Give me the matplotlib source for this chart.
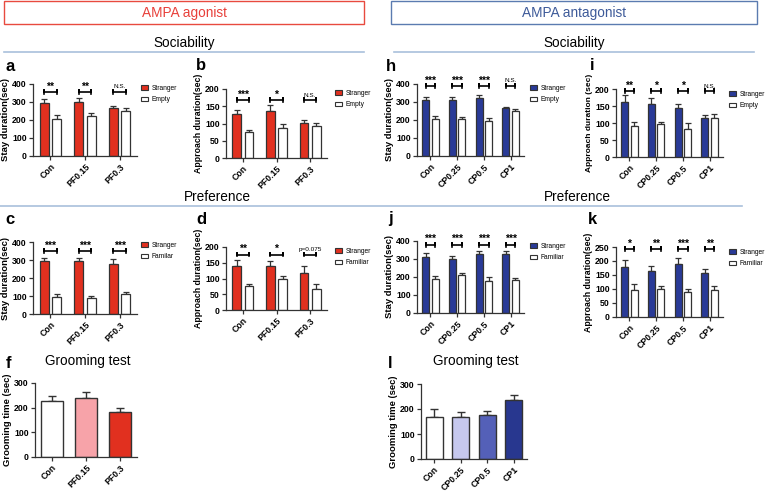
import numpy as np
import matplotlib.pyplot as plt
from matplotlib.patches import Rectangle, Patch

plt.rcParams['font.family'] = ['Liberation Sans', 'DejaVu Sans']

W, H = 768, 491
RED = '#e1301f'
BLUE = '#293a97'
EDGE = '#333333'

pf_groups = ['Con', 'PF0.15', 'PF0.3']
cp_groups = ['Con', 'CP0.25', 'CP0.5', 'CP1']

# a: sociability, stay duration (agonist)
a_stranger = [297, 302, 265]
a_stranger_err = [22, 20, 10]
a_empty = [207, 221, 250]
a_empty_err = [18, 18, 14]
a_sig = ['**', '**', 'N.S.']

# b: sociability, approach duration (agonist)
b_stranger = [128, 136, 101]
b_stranger_err = [12, 17, 10]
b_empty = [75, 87, 94]
b_empty_err = [7, 11, 8]
b_sig = ['***', '*', 'N.S.']

# c: preference, stay duration (agonist)
c_stranger = [292, 293, 280]
c_stranger_err = [20, 18, 26]
c_familiar = [96, 91, 111]
c_familiar_err = [13, 11, 9]
c_sig = ['***', '***', '***']

# d: preference, approach duration (agonist)
d_stranger = [140, 139, 116]
d_stranger_err = [18, 16, 24]
d_familiar = [75, 97, 68]
d_familiar_err = [9, 12, 16]
d_sig = ['**', '*', 'p=0.075']

# f: grooming (agonist)
f_groom = [228, 240, 181]
f_groom_err = [20, 24, 18]
f_colors = ['white', '#f7a3a9', RED]

# h: sociability, stay duration (antagonist)
h_stranger = [313, 311, 320, 264]
h_stranger_err = [15, 18, 17, 10]
h_empty = [208, 207, 192, 248]
h_empty_err = [12, 10, 19, 12]
h_sig = ['***', '***', '***', 'N.S.']

# i: sociability, approach duration (antagonist)
i_stranger = [163, 156, 145, 116]
i_stranger_err = [20, 18, 11, 8]
i_empty = [92, 97, 83, 115]
i_empty_err = [11, 6, 16, 12]
i_sig = ['**', '*', '*', 'N.S.']

# j: preference, stay duration (antagonist)
j_stranger = [313, 301, 327, 328]
j_stranger_err = [18, 16, 20, 16]
j_familiar = [188, 212, 180, 181]
j_familiar_err = [15, 11, 20, 14]
j_sig = ['***', '***', '***', '***']

# k: preference, approach duration (antagonist)
k_stranger = [180, 163, 190, 157]
k_stranger_err = [24, 18, 20, 14]
k_familiar = [98, 100, 88, 95]
k_familiar_err = [20, 12, 12, 14]
k_sig = ['*', '**', '***', '**']

# l: grooming (antagonist)
l_groom = [170, 168, 176, 238]
l_groom_err = [30, 20, 16, 18]
l_colors = ['white', '#c6c8ee', '#5460b8', '#28378f']

fig = plt.figure(figsize=(W / 100, H / 100), dpi=100)

# overlay in pixel coordinates for boxes, section titles and rules
ov = fig.add_axes([0, 0, 1, 1])
ov.set_xlim(0, W)
ov.set_ylim(H, 0)
ov.axis('off')
ov.add_patch(Rectangle((4, 1), 360, 23, fill=False, ec='#e84a3f', lw=1))
ov.add_patch(Rectangle((391, 1), 366, 23, fill=False, ec='#5b7bb0', lw=1))
ov.text(184, 13, 'AMPA agonist', color='#e8403a', fontsize=9.8, ha='center', va='center')
ov.text(574, 13, 'AMPA antagonist', color='#3d5a99', fontsize=9.8, ha='center', va='center')
for xc in (184, 574):
    ov.text(xc, 43, 'Sociability', fontsize=9.8, ha='center', va='center')
ov.plot([4, 364], [52, 52], color='#a9c0dc', lw=1.2)
ov.plot([394, 754], [52, 52], color='#a9c0dc', lw=1.2)
for xc in (217, 577):
    ov.text(xc, 197, 'Preference', fontsize=9.8, ha='center', va='center')
ov.plot([0, 742], [206, 206], color='#a9c0dc', lw=1.2)
ov.text(88, 361, 'Grooming test', fontsize=9.8, ha='center', va='center')
ov.text(476, 361, 'Grooming test', fontsize=9.8, ha='center', va='center')
for lab, x, y in [('a', 10, 66), ('b', 201, 65), ('h', 391, 66), ('i', 592, 65),
                  ('c', 10, 219), ('d', 201, 219), ('j', 390, 219), ('k', 592, 219),
                  ('f', 8, 363), ('l', 390, 364)]:
    ov.text(x, y, lab, fontsize=12, fontweight='bold', ha='center', va='center')


def px_axes(x0, x1, y0, ytop):
    return fig.add_axes([x0 / W, 1 - y0 / H, (x1 - x0) / W, (y0 - ytop) / H])


def style(ax, groups, ymax, ystep, ylabel, ylsize):
    ax.set_xlim(-0.5, len(groups) - 0.5)
    ax.set_ylim(0, ymax)
    ax.set_yticks(np.arange(0, ymax + 1, ystep))
    ax.set_xticks(range(len(groups)))
    ax.set_xticklabels(groups, rotation=45, ha='right', rotation_mode='anchor',
                       fontsize=6.3, fontweight='bold')
    for t in ax.get_yticklabels():
        t.set_fontweight('bold')
        t.set_fontsize(6.3)
    ax.set_ylabel(ylabel, fontsize=ylsize, fontweight='bold', labelpad=1.5)
    ax.spines[['top', 'right']].set_visible(False)
    for s in ('left', 'bottom'):
        ax.spines[s].set_linewidth(0.9)
        ax.spines[s].set_color(EDGE)
    ax.tick_params(length=3, width=0.9, pad=1.5, color=EDGE)


def pair_panel(rect, groups, s, se, o, oe, other, sig, color, ymax, ystep, ylabel, br, leg,
               ylsize=6.8):
    ax = px_axes(*rect)
    x = np.arange(len(groups))
    off, w = 0.18, 0.26
    ax.bar(x - off, s, w, color=color, edgecolor=EDGE, lw=0.9, zorder=2)
    ax.bar(x + off, o, w, color='white', edgecolor=EDGE, lw=0.9, zorder=2)
    ax.errorbar(x - off, s, yerr=[np.zeros(len(s)), se], fmt='none', ecolor=EDGE,
                elinewidth=0.9, capsize=2, capthick=0.9, zorder=1)
    ax.errorbar(x + off, o, yerr=[np.zeros(len(o)), oe], fmt='none', ecolor=EDGE,
                elinewidth=0.9, capsize=2, capthick=0.9, zorder=1)
    d = ymax * 0.028
    for xi, t in zip(x, sig):
        xa, xb = xi - off, xi + off
        ax.plot([xa, xa, xa, xb, xb, xb], [br - d, br + d, br, br, br + d, br - d],
                color='k', lw=1.2, clip_on=False)
        star = t.startswith('*')
        ax.text(xi, br + d * (0.2 if star else 1.3), t, ha='center', va='bottom',
                fontsize=7.5 if star else 4.6, fontweight='bold' if star else 'normal',
                clip_on=False)
    style(ax, groups, ymax, ystep, ylabel, ylsize)
    handles = [Patch(facecolor=color, edgecolor=EDGE, lw=0.8, label='Stranger'),
               Patch(facecolor='white', edgecolor=EDGE, lw=0.8, label=other)]
    ax.legend(handles=handles, loc='upper left', bbox_to_anchor=(leg[0] / W, 1 - leg[1] / H),
              bbox_transform=fig.transFigure, frameon=False, fontsize=4.8,
              handlelength=1.1, handleheight=0.7, handletextpad=0.45, labelspacing=0.65,
              borderaxespad=0, borderpad=0)
    return ax


def groom_panel(rect, groups, vals, err, colors):
    ax = px_axes(*rect)
    x = np.arange(len(groups))
    ax.bar(x, vals, 0.66, color=colors, edgecolor=EDGE, lw=1, zorder=2)
    ax.errorbar(x, vals, yerr=[np.zeros(len(vals)), err], fmt='none', ecolor=EDGE,
                elinewidth=1, capsize=3, capthick=1, zorder=1)
    style(ax, groups, 300, 100, 'Grooming time (sec)', 6.8)
    return ax


pair_panel((33, 137, 156, 84), pf_groups, a_stranger, a_stranger_err, a_empty, a_empty_err,
           'Empty', a_sig, RED, 400, 100, 'Stay duration(sec)', 355, (141, 85))
pair_panel((226, 327, 158, 89), pf_groups, b_stranger, b_stranger_err, b_empty, b_empty_err,
           'Empty', b_sig, RED, 200, 50, 'Approach duration(sec)', 168, (335, 90), 6.3)
pair_panel((33, 137, 314, 242), pf_groups, c_stranger, c_stranger_err, c_familiar, c_familiar_err,
           'Familar', c_sig, RED, 400, 100, 'Stay duration(sec)', 350, (141, 242))
pair_panel((226, 327, 310, 247), pf_groups, d_stranger, d_stranger_err, d_familiar, d_familiar_err,
           'Familiar', d_sig, RED, 200, 50, 'Approach duration(sec)', 176, (335, 248), 6.3)
pair_panel((417, 524, 156, 84), cp_groups, h_stranger, h_stranger_err, h_empty, h_empty_err,
           'Empty', h_sig, BLUE, 400, 100, 'Stay duration(sec)', 390, (530, 85))
pair_panel((616, 723, 157, 89), cp_groups, i_stranger, i_stranger_err, i_empty, i_empty_err,
           'Empty', i_sig, BLUE, 200, 50, 'Approach duration (sec)', 193, (729, 91), 6.0)
pair_panel((417, 524, 313, 241), cp_groups, j_stranger, j_stranger_err, j_familiar, j_familiar_err,
           'Familiar', j_sig, BLUE, 400, 100, 'Stay duration(sec)', 380, (530, 243))
pair_panel((616, 723, 317, 247), cp_groups, k_stranger, k_stranger_err, k_familiar, k_familiar_err,
           'Familiar', k_sig, BLUE, 250, 50, 'Approach duration(sec)', 243, (729, 249), 6.3)

groom_panel((35, 137, 457, 383), pf_groups, f_groom, f_groom_err, f_colors)
groom_panel((421, 527, 459, 384), cp_groups, l_groom, l_groom_err, l_colors)

fig.savefig('out.png', dpi=100)
